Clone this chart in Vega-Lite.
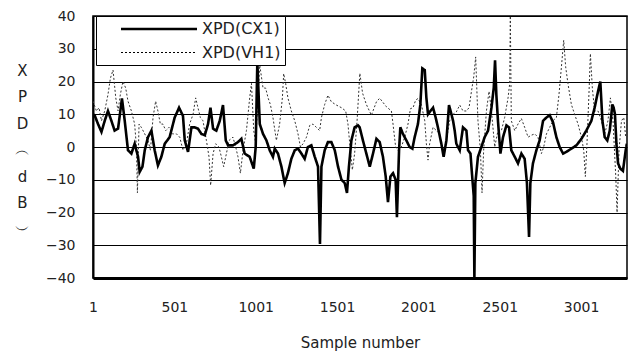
{
  "$schema": "https://vega.github.io/schema/vega-lite/v6.json",
  "width": 534,
  "height": 262,
  "autosize": {"type": "none"},
  "padding": {"left": 93, "top": 16, "right": 6, "bottom": 76},
  "background": "white",
  "config": {
    "font": "DejaVu Sans",
    "view": {"stroke": "black", "strokeWidth": 1.5},
    "axis": {"labelColor": "#222", "titleColor": "#222", "titleFontWeight": "normal", "labelFont": "DejaVu Sans", "titleFont": "DejaVu Sans"},
    "legend": {
      "title": null, "orient": "none", "legendX": 3, "legendY": 0,
      "symbolType": "M-5,0H5", "symbolSize": 231, "symbolStrokeColor": "black",
      "symbolOffset": 50, "labelOffset": 34,
      "labelFontSize": 16, "labelColor": "#222",
      "labelExpr": "datum.label + '\u00a0\u00a0\u00a0'",
      "fillColor": "white", "strokeColor": "black", "padding": 4, "rowPadding": 7
    }
  },
  "data": {"values": [
    {"s":1,"v":10,"k":"XPD(CX1)"},{"s":11,"v":9.7,"k":"XPD(CX1)"},{"s":32,"v":7,"k":"XPD(CX1)"},{"s":53,"v":4.6,"k":"XPD(CX1)"},{"s":73,"v":8,"k":"XPD(CX1)"},{"s":93,"v":11,"k":"XPD(CX1)"},{"s":114,"v":8,"k":"XPD(CX1)"},{"s":134,"v":5,"k":"XPD(CX1)"},{"s":155,"v":5.6,"k":"XPD(CX1)"},{"s":179,"v":14.8,"k":"XPD(CX1)"},{"s":196,"v":8,"k":"XPD(CX1)"},{"s":216,"v":-1,"k":"XPD(CX1)"},{"s":237,"v":-2,"k":"XPD(CX1)"},{"s":257,"v":1,"k":"XPD(CX1)"},{"s":278,"v":-3,"k":"XPD(CX1)"},{"s":288,"v":-7.6,"k":"XPD(CX1)"},{"s":305,"v":-6,"k":"XPD(CX1)"},{"s":319,"v":-1,"k":"XPD(CX1)"},{"s":339,"v":3,"k":"XPD(CX1)"},{"s":360,"v":5,"k":"XPD(CX1)"},{"s":380,"v":-1,"k":"XPD(CX1)"},{"s":400,"v":-5.6,"k":"XPD(CX1)"},{"s":421,"v":-3,"k":"XPD(CX1)"},{"s":442,"v":1,"k":"XPD(CX1)"},{"s":472,"v":3,"k":"XPD(CX1)"},{"s":503,"v":9,"k":"XPD(CX1)"},{"s":530,"v":12,"k":"XPD(CX1)"},{"s":554,"v":9.5,"k":"XPD(CX1)"},{"s":565,"v":2,"k":"XPD(CX1)"},{"s":585,"v":-1.5,"k":"XPD(CX1)"},{"s":606,"v":6,"k":"XPD(CX1)"},{"s":626,"v":6,"k":"XPD(CX1)"},{"s":646,"v":5.6,"k":"XPD(CX1)"},{"s":667,"v":4,"k":"XPD(CX1)"},{"s":688,"v":3.6,"k":"XPD(CX1)"},{"s":708,"v":7,"k":"XPD(CX1)"},{"s":723,"v":12,"k":"XPD(CX1)"},{"s":739,"v":5.6,"k":"XPD(CX1)"},{"s":759,"v":5,"k":"XPD(CX1)"},{"s":780,"v":8,"k":"XPD(CX1)"},{"s":800,"v":12.8,"k":"XPD(CX1)"},{"s":817,"v":2,"k":"XPD(CX1)"},{"s":831,"v":0.5,"k":"XPD(CX1)"},{"s":861,"v":0.5,"k":"XPD(CX1)"},{"s":892,"v":1.5,"k":"XPD(CX1)"},{"s":913,"v":2.5,"k":"XPD(CX1)"},{"s":933,"v":-2,"k":"XPD(CX1)"},{"s":964,"v":-3,"k":"XPD(CX1)"},{"s":989,"v":-6.6,"k":"XPD(CX1)"},{"s":1001,"v":0,"k":"XPD(CX1)"},{"s":1011,"v":26,"k":"XPD(CX1)"},{"s":1026,"v":7,"k":"XPD(CX1)"},{"s":1046,"v":4,"k":"XPD(CX1)"},{"s":1067,"v":2,"k":"XPD(CX1)"},{"s":1087,"v":-1,"k":"XPD(CX1)"},{"s":1107,"v":-3,"k":"XPD(CX1)"},{"s":1118,"v":-0.5,"k":"XPD(CX1)"},{"s":1138,"v":-2,"k":"XPD(CX1)"},{"s":1159,"v":-6,"k":"XPD(CX1)"},{"s":1179,"v":-11,"k":"XPD(CX1)"},{"s":1199,"v":-8,"k":"XPD(CX1)"},{"s":1220,"v":-3.6,"k":"XPD(CX1)"},{"s":1241,"v":-1,"k":"XPD(CX1)"},{"s":1261,"v":-0.5,"k":"XPD(CX1)"},{"s":1282,"v":-2,"k":"XPD(CX1)"},{"s":1302,"v":-3.6,"k":"XPD(CX1)"},{"s":1322,"v":0,"k":"XPD(CX1)"},{"s":1343,"v":0.5,"k":"XPD(CX1)"},{"s":1364,"v":-3,"k":"XPD(CX1)"},{"s":1384,"v":-6,"k":"XPD(CX1)"},{"s":1396,"v":-29.6,"k":"XPD(CX1)"},{"s":1405,"v":-6,"k":"XPD(CX1)"},{"s":1425,"v":-1,"k":"XPD(CX1)"},{"s":1445,"v":1.5,"k":"XPD(CX1)"},{"s":1466,"v":1.5,"k":"XPD(CX1)"},{"s":1487,"v":-1,"k":"XPD(CX1)"},{"s":1507,"v":-6,"k":"XPD(CX1)"},{"s":1528,"v":-10,"k":"XPD(CX1)"},{"s":1548,"v":-11,"k":"XPD(CX1)"},{"s":1562,"v":-14,"k":"XPD(CX1)"},{"s":1574,"v":-6,"k":"XPD(CX1)"},{"s":1589,"v":2,"k":"XPD(CX1)"},{"s":1609,"v":6,"k":"XPD(CX1)"},{"s":1630,"v":6.6,"k":"XPD(CX1)"},{"s":1640,"v":6,"k":"XPD(CX1)"},{"s":1660,"v":2,"k":"XPD(CX1)"},{"s":1681,"v":-2,"k":"XPD(CX1)"},{"s":1702,"v":-6,"k":"XPD(CX1)"},{"s":1722,"v":-2,"k":"XPD(CX1)"},{"s":1743,"v":2.5,"k":"XPD(CX1)"},{"s":1763,"v":1.5,"k":"XPD(CX1)"},{"s":1783,"v":-3,"k":"XPD(CX1)"},{"s":1800,"v":-9,"k":"XPD(CX1)"},{"s":1814,"v":-16.8,"k":"XPD(CX1)"},{"s":1829,"v":-9,"k":"XPD(CX1)"},{"s":1845,"v":-8,"k":"XPD(CX1)"},{"s":1861,"v":-10,"k":"XPD(CX1)"},{"s":1869,"v":-21.4,"k":"XPD(CX1)"},{"s":1882,"v":-1,"k":"XPD(CX1)"},{"s":1890,"v":6,"k":"XPD(CX1)"},{"s":1906,"v":4,"k":"XPD(CX1)"},{"s":1927,"v":2,"k":"XPD(CX1)"},{"s":1947,"v":0,"k":"XPD(CX1)"},{"s":1964,"v":-0.5,"k":"XPD(CX1)"},{"s":1978,"v":3,"k":"XPD(CX1)"},{"s":1998,"v":7,"k":"XPD(CX1)"},{"s":2013,"v":13,"k":"XPD(CX1)"},{"s":2025,"v":24,"k":"XPD(CX1)"},{"s":2040,"v":23.5,"k":"XPD(CX1)"},{"s":2050,"v":15,"k":"XPD(CX1)"},{"s":2060,"v":10,"k":"XPD(CX1)"},{"s":2075,"v":11,"k":"XPD(CX1)"},{"s":2091,"v":12,"k":"XPD(CX1)"},{"s":2107,"v":9,"k":"XPD(CX1)"},{"s":2121,"v":6,"k":"XPD(CX1)"},{"s":2142,"v":1,"k":"XPD(CX1)"},{"s":2156,"v":-3,"k":"XPD(CX1)"},{"s":2173,"v":2,"k":"XPD(CX1)"},{"s":2189,"v":12.8,"k":"XPD(CX1)"},{"s":2204,"v":10,"k":"XPD(CX1)"},{"s":2214,"v":8,"k":"XPD(CX1)"},{"s":2224,"v":5,"k":"XPD(CX1)"},{"s":2234,"v":1,"k":"XPD(CX1)"},{"s":2255,"v":-1,"k":"XPD(CX1)"},{"s":2275,"v":6,"k":"XPD(CX1)"},{"s":2296,"v":5,"k":"XPD(CX1)"},{"s":2306,"v":-1,"k":"XPD(CX1)"},{"s":2321,"v":-2,"k":"XPD(CX1)"},{"s":2333,"v":-10,"k":"XPD(CX1)"},{"s":2341,"v":-15,"k":"XPD(CX1)"},{"s":2345,"v":-40,"k":"XPD(CX1)"},{"s":2351,"v":-11,"k":"XPD(CX1)"},{"s":2367,"v":-3,"k":"XPD(CX1)"},{"s":2388,"v":0,"k":"XPD(CX1)"},{"s":2408,"v":3,"k":"XPD(CX1)"},{"s":2429,"v":5,"k":"XPD(CX1)"},{"s":2450,"v":12,"k":"XPD(CX1)"},{"s":2464,"v":18,"k":"XPD(CX1)"},{"s":2472,"v":26.5,"k":"XPD(CX1)"},{"s":2480,"v":16,"k":"XPD(CX1)"},{"s":2490,"v":8,"k":"XPD(CX1)"},{"s":2505,"v":-2,"k":"XPD(CX1)"},{"s":2521,"v":3,"k":"XPD(CX1)"},{"s":2542,"v":6.6,"k":"XPD(CX1)"},{"s":2558,"v":6,"k":"XPD(CX1)"},{"s":2572,"v":-1,"k":"XPD(CX1)"},{"s":2593,"v":-3,"k":"XPD(CX1)"},{"s":2613,"v":-5,"k":"XPD(CX1)"},{"s":2634,"v":-2,"k":"XPD(CX1)"},{"s":2654,"v":-3.6,"k":"XPD(CX1)"},{"s":2668,"v":-11,"k":"XPD(CX1)"},{"s":2681,"v":-27.5,"k":"XPD(CX1)"},{"s":2689,"v":-11,"k":"XPD(CX1)"},{"s":2705,"v":-5,"k":"XPD(CX1)"},{"s":2726,"v":-1,"k":"XPD(CX1)"},{"s":2746,"v":2,"k":"XPD(CX1)"},{"s":2767,"v":8,"k":"XPD(CX1)"},{"s":2788,"v":9,"k":"XPD(CX1)"},{"s":2808,"v":9.7,"k":"XPD(CX1)"},{"s":2828,"v":7.6,"k":"XPD(CX1)"},{"s":2849,"v":3,"k":"XPD(CX1)"},{"s":2869,"v":0,"k":"XPD(CX1)"},{"s":2890,"v":-2,"k":"XPD(CX1)"},{"s":2910,"v":-1.5,"k":"XPD(CX1)"},{"s":2941,"v":-0.5,"k":"XPD(CX1)"},{"s":2972,"v":0.5,"k":"XPD(CX1)"},{"s":3003,"v":2.5,"k":"XPD(CX1)"},{"s":3033,"v":5,"k":"XPD(CX1)"},{"s":3064,"v":8,"k":"XPD(CX1)"},{"s":3084,"v":12,"k":"XPD(CX1)"},{"s":3105,"v":17,"k":"XPD(CX1)"},{"s":3119,"v":20,"k":"XPD(CX1)"},{"s":3132,"v":8,"k":"XPD(CX1)"},{"s":3146,"v":3,"k":"XPD(CX1)"},{"s":3162,"v":2,"k":"XPD(CX1)"},{"s":3177,"v":5,"k":"XPD(CX1)"},{"s":3193,"v":13,"k":"XPD(CX1)"},{"s":3201,"v":12,"k":"XPD(CX1)"},{"s":3209,"v":10,"k":"XPD(CX1)"},{"s":3218,"v":1,"k":"XPD(CX1)"},{"s":3228,"v":-5,"k":"XPD(CX1)"},{"s":3242,"v":-6.6,"k":"XPD(CX1)"},{"s":3258,"v":-7.3,"k":"XPD(CX1)"},{"s":3275,"v":-1,"k":"XPD(CX1)"},{"s":3282,"v":1,"k":"XPD(CX1)"},
    {"s":1,"v":14,"k":"XPD(VH1)"},{"s":22,"v":11,"k":"XPD(VH1)"},{"s":38,"v":12,"k":"XPD(VH1)"},{"s":53,"v":8,"k":"XPD(VH1)"},{"s":73,"v":11,"k":"XPD(VH1)"},{"s":93,"v":16,"k":"XPD(VH1)"},{"s":108,"v":21,"k":"XPD(VH1)"},{"s":124,"v":23.5,"k":"XPD(VH1)"},{"s":141,"v":15,"k":"XPD(VH1)"},{"s":155,"v":11,"k":"XPD(VH1)"},{"s":169,"v":16,"k":"XPD(VH1)"},{"s":185,"v":20,"k":"XPD(VH1)"},{"s":202,"v":18,"k":"XPD(VH1)"},{"s":216,"v":14,"k":"XPD(VH1)"},{"s":237,"v":11,"k":"XPD(VH1)"},{"s":257,"v":7,"k":"XPD(VH1)"},{"s":268,"v":0,"k":"XPD(VH1)"},{"s":274,"v":-14,"k":"XPD(VH1)"},{"s":284,"v":7,"k":"XPD(VH1)"},{"s":298,"v":6,"k":"XPD(VH1)"},{"s":319,"v":4,"k":"XPD(VH1)"},{"s":339,"v":2,"k":"XPD(VH1)"},{"s":354,"v":-1,"k":"XPD(VH1)"},{"s":370,"v":9,"k":"XPD(VH1)"},{"s":386,"v":14,"k":"XPD(VH1)"},{"s":400,"v":11,"k":"XPD(VH1)"},{"s":415,"v":7,"k":"XPD(VH1)"},{"s":431,"v":7,"k":"XPD(VH1)"},{"s":448,"v":5,"k":"XPD(VH1)"},{"s":468,"v":6,"k":"XPD(VH1)"},{"s":489,"v":4,"k":"XPD(VH1)"},{"s":514,"v":4,"k":"XPD(VH1)"},{"s":534,"v":3,"k":"XPD(VH1)"},{"s":554,"v":-1,"k":"XPD(VH1)"},{"s":575,"v":1,"k":"XPD(VH1)"},{"s":595,"v":7,"k":"XPD(VH1)"},{"s":616,"v":10,"k":"XPD(VH1)"},{"s":632,"v":15,"k":"XPD(VH1)"},{"s":646,"v":12,"k":"XPD(VH1)"},{"s":661,"v":9,"k":"XPD(VH1)"},{"s":677,"v":8,"k":"XPD(VH1)"},{"s":698,"v":2,"k":"XPD(VH1)"},{"s":714,"v":-3,"k":"XPD(VH1)"},{"s":724,"v":-11.7,"k":"XPD(VH1)"},{"s":739,"v":-2,"k":"XPD(VH1)"},{"s":755,"v":1,"k":"XPD(VH1)"},{"s":775,"v":0,"k":"XPD(VH1)"},{"s":790,"v":-3,"k":"XPD(VH1)"},{"s":804,"v":-6,"k":"XPD(VH1)"},{"s":821,"v":-2,"k":"XPD(VH1)"},{"s":837,"v":2,"k":"XPD(VH1)"},{"s":861,"v":3,"k":"XPD(VH1)"},{"s":878,"v":0,"k":"XPD(VH1)"},{"s":892,"v":-3,"k":"XPD(VH1)"},{"s":907,"v":-8,"k":"XPD(VH1)"},{"s":923,"v":-1,"k":"XPD(VH1)"},{"s":944,"v":5,"k":"XPD(VH1)"},{"s":964,"v":15,"k":"XPD(VH1)"},{"s":975,"v":19.4,"k":"XPD(VH1)"},{"s":989,"v":5,"k":"XPD(VH1)"},{"s":1001,"v":1,"k":"XPD(VH1)"},{"s":1015,"v":15,"k":"XPD(VH1)"},{"s":1026,"v":25,"k":"XPD(VH1)"},{"s":1046,"v":18,"k":"XPD(VH1)"},{"s":1062,"v":18,"k":"XPD(VH1)"},{"s":1077,"v":15,"k":"XPD(VH1)"},{"s":1091,"v":13,"k":"XPD(VH1)"},{"s":1107,"v":9,"k":"XPD(VH1)"},{"s":1128,"v":2,"k":"XPD(VH1)"},{"s":1148,"v":7,"k":"XPD(VH1)"},{"s":1165,"v":15,"k":"XPD(VH1)"},{"s":1173,"v":22.4,"k":"XPD(VH1)"},{"s":1185,"v":19.4,"k":"XPD(VH1)"},{"s":1199,"v":15,"k":"XPD(VH1)"},{"s":1220,"v":11,"k":"XPD(VH1)"},{"s":1241,"v":8,"k":"XPD(VH1)"},{"s":1261,"v":4,"k":"XPD(VH1)"},{"s":1276,"v":0,"k":"XPD(VH1)"},{"s":1292,"v":1,"k":"XPD(VH1)"},{"s":1313,"v":3,"k":"XPD(VH1)"},{"s":1333,"v":6.6,"k":"XPD(VH1)"},{"s":1353,"v":7,"k":"XPD(VH1)"},{"s":1374,"v":6,"k":"XPD(VH1)"},{"s":1394,"v":5,"k":"XPD(VH1)"},{"s":1405,"v":9,"k":"XPD(VH1)"},{"s":1425,"v":13,"k":"XPD(VH1)"},{"s":1445,"v":15.8,"k":"XPD(VH1)"},{"s":1466,"v":13.8,"k":"XPD(VH1)"},{"s":1497,"v":12.8,"k":"XPD(VH1)"},{"s":1528,"v":12,"k":"XPD(VH1)"},{"s":1554,"v":11,"k":"XPD(VH1)"},{"s":1568,"v":7,"k":"XPD(VH1)"},{"s":1579,"v":1,"k":"XPD(VH1)"},{"s":1595,"v":-7,"k":"XPD(VH1)"},{"s":1609,"v":-2,"k":"XPD(VH1)"},{"s":1624,"v":8,"k":"XPD(VH1)"},{"s":1641,"v":22.5,"k":"XPD(VH1)"},{"s":1658,"v":16.4,"k":"XPD(VH1)"},{"s":1681,"v":13,"k":"XPD(VH1)"},{"s":1712,"v":9.7,"k":"XPD(VH1)"},{"s":1743,"v":13.8,"k":"XPD(VH1)"},{"s":1763,"v":14.9,"k":"XPD(VH1)"},{"s":1804,"v":12.3,"k":"XPD(VH1)"},{"s":1835,"v":11,"k":"XPD(VH1)"},{"s":1845,"v":7,"k":"XPD(VH1)"},{"s":1861,"v":0,"k":"XPD(VH1)"},{"s":1876,"v":-1,"k":"XPD(VH1)"},{"s":1896,"v":0,"k":"XPD(VH1)"},{"s":1917,"v":3,"k":"XPD(VH1)"},{"s":1937,"v":7,"k":"XPD(VH1)"},{"s":1952,"v":11.7,"k":"XPD(VH1)"},{"s":1968,"v":12,"k":"XPD(VH1)"},{"s":1984,"v":14.3,"k":"XPD(VH1)"},{"s":1998,"v":14.8,"k":"XPD(VH1)"},{"s":2019,"v":13,"k":"XPD(VH1)"},{"s":2040,"v":8,"k":"XPD(VH1)"},{"s":2050,"v":1,"k":"XPD(VH1)"},{"s":2060,"v":-4,"k":"XPD(VH1)"},{"s":2070,"v":1,"k":"XPD(VH1)"},{"s":2091,"v":6,"k":"XPD(VH1)"},{"s":2112,"v":5,"k":"XPD(VH1)"},{"s":2132,"v":4,"k":"XPD(VH1)"},{"s":2152,"v":-2,"k":"XPD(VH1)"},{"s":2173,"v":2,"k":"XPD(VH1)"},{"s":2193,"v":8,"k":"XPD(VH1)"},{"s":2214,"v":10,"k":"XPD(VH1)"},{"s":2234,"v":10.7,"k":"XPD(VH1)"},{"s":2255,"v":12.8,"k":"XPD(VH1)"},{"s":2275,"v":11,"k":"XPD(VH1)"},{"s":2296,"v":11,"k":"XPD(VH1)"},{"s":2312,"v":12,"k":"XPD(VH1)"},{"s":2327,"v":17,"k":"XPD(VH1)"},{"s":2341,"v":21.4,"k":"XPD(VH1)"},{"s":2353,"v":27.5,"k":"XPD(VH1)"},{"s":2367,"v":8,"k":"XPD(VH1)"},{"s":2382,"v":-1,"k":"XPD(VH1)"},{"s":2392,"v":-14,"k":"XPD(VH1)"},{"s":2402,"v":-1,"k":"XPD(VH1)"},{"s":2419,"v":11,"k":"XPD(VH1)"},{"s":2435,"v":17,"k":"XPD(VH1)"},{"s":2450,"v":11,"k":"XPD(VH1)"},{"s":2470,"v":0,"k":"XPD(VH1)"},{"s":2490,"v":5,"k":"XPD(VH1)"},{"s":2511,"v":5,"k":"XPD(VH1)"},{"s":2531,"v":9,"k":"XPD(VH1)"},{"s":2552,"v":15,"k":"XPD(VH1)"},{"s":2562,"v":19.4,"k":"XPD(VH1)"},{"s":2566,"v":40,"k":"XPD(VH1)"},{"s":2572,"v":8,"k":"XPD(VH1)"},{"s":2593,"v":5,"k":"XPD(VH1)"},{"s":2613,"v":7,"k":"XPD(VH1)"},{"s":2634,"v":8.7,"k":"XPD(VH1)"},{"s":2654,"v":6,"k":"XPD(VH1)"},{"s":2675,"v":3,"k":"XPD(VH1)"},{"s":2695,"v":3.6,"k":"XPD(VH1)"},{"s":2716,"v":4,"k":"XPD(VH1)"},{"s":2736,"v":3,"k":"XPD(VH1)"},{"s":2757,"v":-2,"k":"XPD(VH1)"},{"s":2771,"v":0,"k":"XPD(VH1)"},{"s":2788,"v":4,"k":"XPD(VH1)"},{"s":2808,"v":6,"k":"XPD(VH1)"},{"s":2828,"v":8,"k":"XPD(VH1)"},{"s":2849,"v":9,"k":"XPD(VH1)"},{"s":2865,"v":16,"k":"XPD(VH1)"},{"s":2880,"v":24.5,"k":"XPD(VH1)"},{"s":2894,"v":32.6,"k":"XPD(VH1)"},{"s":2906,"v":24.5,"k":"XPD(VH1)"},{"s":2920,"v":19.4,"k":"XPD(VH1)"},{"s":2941,"v":13,"k":"XPD(VH1)"},{"s":2961,"v":10,"k":"XPD(VH1)"},{"s":2982,"v":7,"k":"XPD(VH1)"},{"s":3003,"v":3,"k":"XPD(VH1)"},{"s":3017,"v":-1,"k":"XPD(VH1)"},{"s":3027,"v":-9,"k":"XPD(VH1)"},{"s":3037,"v":1,"k":"XPD(VH1)"},{"s":3049,"v":16,"k":"XPD(VH1)"},{"s":3058,"v":28.5,"k":"XPD(VH1)"},{"s":3070,"v":18,"k":"XPD(VH1)"},{"s":3084,"v":11,"k":"XPD(VH1)"},{"s":3105,"v":11,"k":"XPD(VH1)"},{"s":3126,"v":8,"k":"XPD(VH1)"},{"s":3146,"v":4,"k":"XPD(VH1)"},{"s":3166,"v":8,"k":"XPD(VH1)"},{"s":3181,"v":15,"k":"XPD(VH1)"},{"s":3197,"v":8,"k":"XPD(VH1)"},{"s":3214,"v":-9,"k":"XPD(VH1)"},{"s":3222,"v":-20,"k":"XPD(VH1)"},{"s":3234,"v":-1,"k":"XPD(VH1)"},{"s":3249,"v":8,"k":"XPD(VH1)"},{"s":3263,"v":9,"k":"XPD(VH1)"},{"s":3275,"v":3,"k":"XPD(VH1)"}
  ]},
  "encoding": {
    "x": {
      "field": "s", "type": "quantitative",
      "scale": {"domain": [1, 3283], "nice": false, "zero": false},
      "axis": {
        "values": [1, 501, 1001, 1501, 2001, 2501, 3001],
        "format": "d", "grid": false, "ticks": false, "tickSize": 0,
        "domainColor": "black", "domainWidth": 3,
        "labelFontSize": 14, "labelPadding": 22, "labelFlush": false,
        "title": "Sample number", "titleFontSize": 15, "titlePadding": 21
      }
    },
    "y": {
      "field": "v", "type": "quantitative",
      "scale": {"domain": [-40, 40], "nice": false, "zero": false},
      "axis": {
        "values": [-40, -30, -20, -10, 0, 10, 20, 30, 40],
        "grid": true, "gridColor": "black", "gridWidth": 1, "gridOpacity": 1,
        "ticks": false, "tickSize": 0,
        "domainColor": "black", "domainWidth": 2,
        "labelFontSize": 14, "labelPadding": 18,
        "title": ["X", "P", "D", "︵", "d", "B", "︶"],
        "titleAngle": 0, "titleFontSize": 15, "titleLineHeight": 26.5,
        "titleAlign": "center", "titleBaseline": "top",
        "titleX": -71, "titleY": 47
      }
    },
    "strokeDash": {
      "field": "k", "type": "nominal",
      "scale": {"domain": ["XPD(CX1)", "XPD(VH1)"], "range": [[1, 0], [2, 2]]}
    },
    "strokeWidth": {
      "field": "k", "type": "nominal",
      "scale": {"domain": ["XPD(CX1)", "XPD(VH1)"], "range": [2.6, 1]}
    }
  },
  "layer": [
    {"transform": [{"filter": "datum.k == 'XPD(VH1)'"}], "mark": {"type": "line", "color": "#333", "clip": true}},
    {"transform": [{"filter": "datum.k == 'XPD(CX1)'"}], "mark": {"type": "line", "color": "black", "clip": true}}
  ]
}
